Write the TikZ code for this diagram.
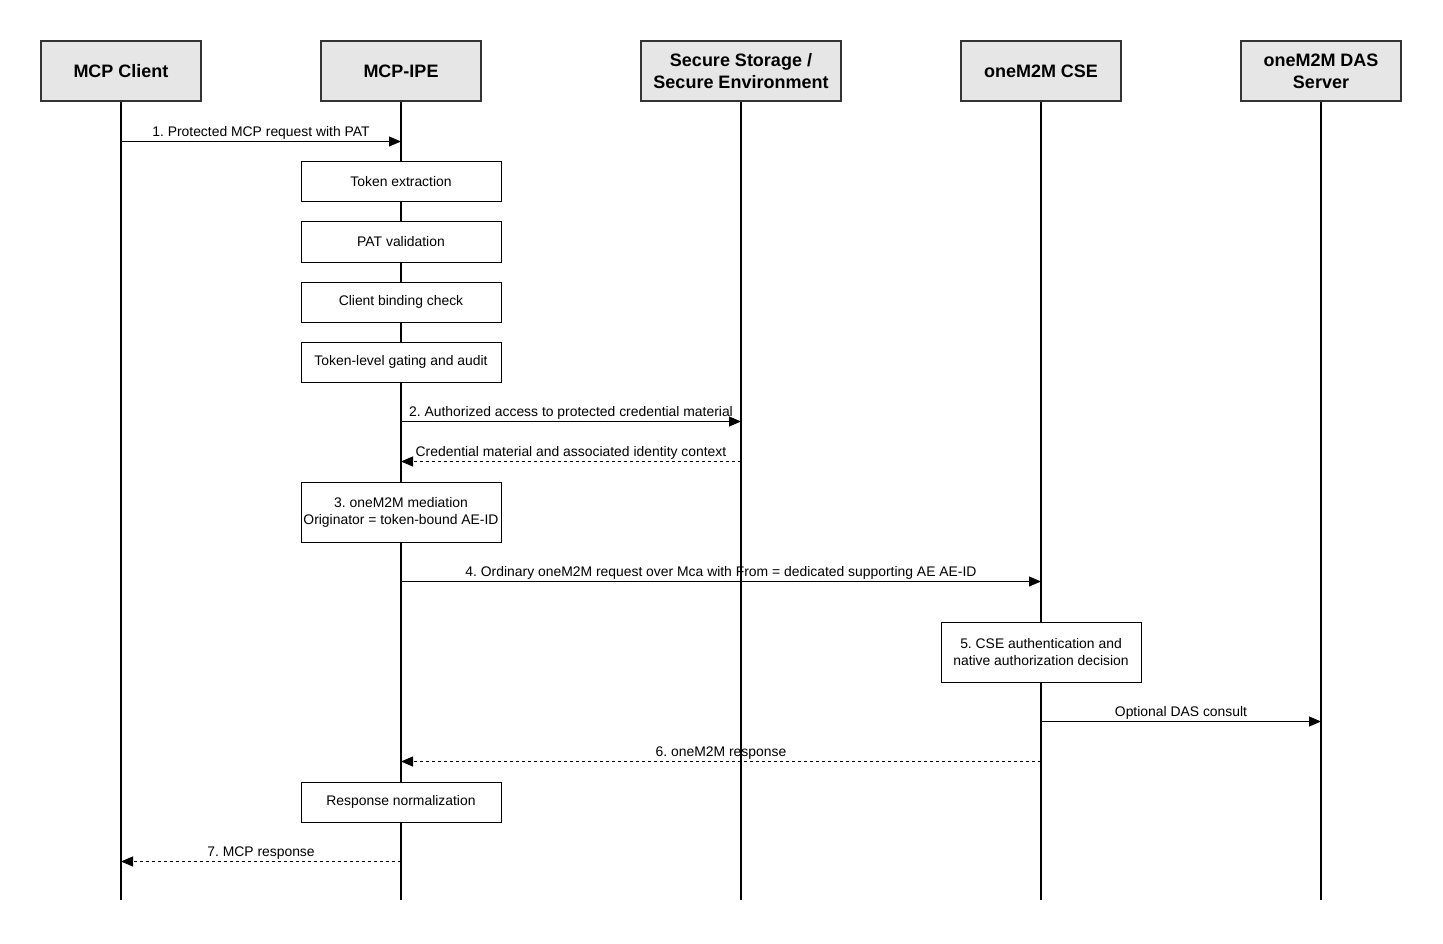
\documentclass[tikz,border=0pt]{standalone}
\usepackage{fontspec}
\setmainfont{Liberation Sans}
\usetikzlibrary{arrows.meta}
\definecolor{hdrfill}{HTML}{E6E6E6}
\definecolor{hdrline}{HTML}{333333}
\frenchspacing
\begin{document}
\begin{tikzpicture}[x=1pt,y=-1pt,
  hdr/.style={draw=hdrline, fill=hdrfill, line width=2pt, minimum width=160pt, minimum height=60pt,
    font=\fontsize{18}{22}\selectfont\bfseries, align=center, inner sep=0pt},
  life/.style={line width=2pt},
  proc/.style={draw, fill=white, line width=1pt, minimum width=200pt, minimum height=40pt,
    font=\fontsize{13.9}{17}\selectfont, align=center, inner sep=0pt},
  msg/.style={line width=1pt, -{Triangle[length=12pt,width=10pt]}},
  ret/.style={msg, dash pattern=on 3pt off 3pt},
  lbl/.style={font=\fontsize{13.9}{17}\selectfont, anchor=base, inner sep=0pt, yshift=5pt}]
\useasboundingbox (0,0) rectangle (1443,944);

% end points of lifelines
\coordinate (clE) at (121,900);
\coordinate (ipeE) at (401,900);
\coordinate (ssE) at (741,900);
\coordinate (cseE) at (1041,900);
\coordinate (dasE) at (1321,900);
\coordinate (clT) at (121,101);
\coordinate (ipeT) at (401,101);
\coordinate (ssT) at (741,101);
\coordinate (cseT) at (1041,101);
\coordinate (dasT) at (1321,101);

\draw[life] (clT) -- (clE);
\draw[life] (ipeT) -- (ipeE);
\draw[life] (ssT) -- (ssE);
\draw[life] (cseT) -- (cseE);
\draw[life] (dasT) -- (dasE);

% headers
\node[hdr] (cl) at (121,71) {MCP Client};
\node[hdr] (ipe) at (401,71) {MCP-IPE};
\node[hdr, minimum width=200pt] (ss) at (741,71) {Secure Storage /\\Secure Environment};
\node[hdr] (cse) at (1041,71) {oneM2M CSE};
\node[hdr] (das) at (1321,71) {oneM2M DAS\\Server};

% process boxes
\node[proc] (b1) at (401,182) {Token extraction};
\node[proc] (b2) at (401,242) {PAT validation};
\node[proc] (b3) at (401,302) {Client binding check};
\node[proc] (b4) at (401,362) {Token-level gating and audit};
\node[proc, minimum height=60pt] (b5) at (401,512) {3. oneM2M mediation\\Originator = token-bound AE-ID};
\node[proc, minimum height=60pt] (b6) at (1041,652) {5. CSE authentication and\\native authorization decision};
\node[proc] (b7) at (401,802) {Response normalization};

% message levels
\coordinate (m1) at (0,141.5);
\coordinate (m2) at (0,421.5);
\coordinate (m2r) at (0,461.5);
\coordinate (m4) at (0,581.5);
\coordinate (m5) at (0,721.5);
\coordinate (m6) at (0,761.5);
\coordinate (m7) at (0,861.5);

\draw[msg] (cl |- m1) -- (ipe |- m1) node[lbl, midway] {1. Protected MCP request with PAT};
\draw[msg] (ipe |- m2) -- (ss |- m2) node[lbl, midway] {2. Authorized access to protected credential material};
\draw[ret] (ss |- m2r) -- (ipe |- m2r) node[lbl, midway] {Credential material and associated identity context};
\draw[msg] (ipe |- m4) -- (cse |- m4) node[lbl, midway] {4. Ordinary oneM2M request over Mca with From = dedicated supporting AE AE-ID};
\draw[msg] (cse |- m5) -- (das |- m5) node[lbl, midway] {Optional DAS consult};
\draw[ret] (cse |- m6) -- (ipe |- m6) node[lbl, midway] {6. oneM2M response};
\draw[ret] (ipe |- m7) -- (cl |- m7) node[lbl, midway] {7. MCP response};
\end{tikzpicture}
\end{document}
